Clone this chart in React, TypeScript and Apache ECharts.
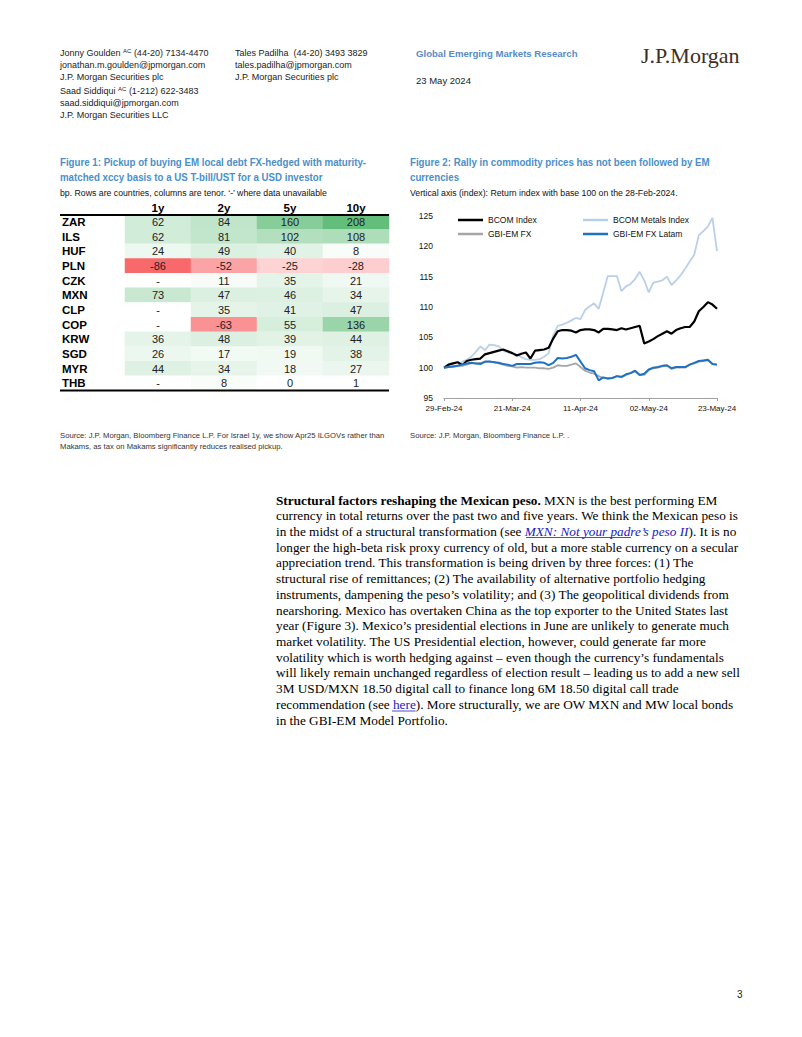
import React, { useEffect, useRef } from 'react';
import * as echarts from 'echarts';

const SANS = '"Liberation Sans", Arial, sans-serif';
const SERIF = '"Liberation Serif", "Times New Roman", serif';

// ---------- Figure 1 data ----------
const currencies = ['ZAR', 'ILS', 'HUF', 'PLN', 'CZK', 'MXN', 'CLP', 'COP', 'KRW', 'SGD', 'MYR', 'THB'];
const tenors = ['1y', '2y', '5y', '10y'];
const pickup1y: (number | null)[] = [62, 62, 24, -86, null, 73, null, null, 36, 26, 44, null];
const pickup2y: (number | null)[] = [84, 81, 49, -52, 11, 47, 35, -63, 48, 17, 34, 8];
const pickup5y: (number | null)[] = [160, 102, 40, -25, 35, 46, 41, 55, 39, 19, 18, 0];
const pickup10y: (number | null)[] = [208, 108, 8, -28, 21, 34, 47, 136, 44, 38, 27, 1];

// ---------- Figure 2 data ----------
const dates = [
  '29-Feb-24', '01-Mar-24', '04-Mar-24', '05-Mar-24', '06-Mar-24', '07-Mar-24', '08-Mar-24',
  '11-Mar-24', '12-Mar-24', '13-Mar-24', '14-Mar-24', '15-Mar-24',
  '18-Mar-24', '19-Mar-24', '20-Mar-24', '21-Mar-24', '22-Mar-24',
  '25-Mar-24', '26-Mar-24', '27-Mar-24', '28-Mar-24', '29-Mar-24',
  '01-Apr-24', '02-Apr-24', '03-Apr-24', '04-Apr-24', '05-Apr-24',
  '08-Apr-24', '09-Apr-24', '10-Apr-24', '11-Apr-24', '12-Apr-24',
  '15-Apr-24', '16-Apr-24', '17-Apr-24', '18-Apr-24', '19-Apr-24',
  '22-Apr-24', '23-Apr-24', '24-Apr-24', '25-Apr-24', '26-Apr-24',
  '29-Apr-24', '30-Apr-24', '01-May-24', '02-May-24', '03-May-24',
  '06-May-24', '07-May-24', '08-May-24', '09-May-24', '10-May-24',
  '13-May-24', '14-May-24', '15-May-24', '16-May-24', '17-May-24',
  '20-May-24', '21-May-24', '22-May-24', '23-May-24',
];
const bcomIndex = [
  100.0, 100.5, 100.7, 100.9, 100.4, 101.1, 101.3, 101.4, 101.5, 102.2,
  102.4, 102.6, 102.8, 103.0, 102.7, 102.4, 102.0, 102.3, 102.5, 101.5,
  102.8, 102.9, 103.0, 103.3, 104.8, 106.0, 106.2, 106.2, 106.1, 105.8,
  106.2, 106.3, 106.3, 106.2, 105.8, 106.4, 106.4, 106.3, 106.2, 106.5,
  106.3, 106.5, 106.7, 106.9, 104.0, 104.3, 104.7, 105.2, 105.6, 106.0,
  105.6, 106.2, 106.5, 106.7, 106.7, 107.6, 109.3, 110.0, 110.8, 110.4, 109.7,
];
const bcomMetals = [
  100.0, 100.2, 100.1, 100.3, 101.0, 101.3, 101.8, 102.6, 103.5, 102.9,
  103.8, 103.7, 103.5, 102.8, 102.5, 102.4, 102.2, 101.7, 101.4, 101.3,
  101.3, 101.4, 101.8, 102.4, 105.3, 106.9, 107.1, 107.4, 107.8, 108.2,
  108.0, 109.5, 110.1, 110.6, 109.7, 112.4, 115.1, 115.1, 115.1, 112.6,
  113.4, 113.8, 114.6, 115.8, 114.4, 112.4, 114.0, 114.2, 114.4, 115.0,
  113.6, 114.4, 115.2, 116.3, 117.5, 118.6, 121.8, 122.5, 123.3, 124.7, 119.2,
];
const gbiEmFx = [
  100.0, 100.1, 100.2, 100.3, 100.3, 100.5, 100.7, 100.7, 100.8, 100.9,
  101.0, 100.9, 100.7, 100.5, 100.3, 100.2, 100.0, 100.1, 100.0, 100.0,
  100.0, 99.9, 99.9, 99.8, 100.0, 100.4, 100.3, 100.3, 100.5, 100.7,
  100.1, 99.5, 99.2, 99.0, 98.6, 98.3, 98.2, 98.3, 98.6, 98.4,
  98.8, 99.1, 99.4, 98.8, 98.8, 99.6, 99.9, 100.0, 100.2, 100.3,
  99.8, 100.0, 100.0, 100.0, 100.5, 100.7, 101.0, 101.1, 101.2, 100.6, 100.5,
];
const gbiEmFxLatam = [
  100.0, 100.1, 100.2, 100.3, 100.5, 100.7, 100.8, 100.7, 100.6, 101.0,
  101.0, 100.9, 100.8, 100.6, 100.5, 100.3, 100.6, 100.6, 100.6, 100.6,
  100.8, 100.9, 100.8, 100.4, 100.8, 101.6, 101.5, 101.6, 101.8, 102.1,
  101.0, 99.9, 99.6, 99.4, 97.9, 98.4, 98.2, 98.3, 98.6, 98.5,
  98.9, 99.1, 99.5, 98.8, 99.0, 99.7, 100.0, 100.1, 100.3, 100.4,
  99.9, 100.1, 100.1, 100.1, 100.5, 100.8, 101.1, 101.2, 101.3, 100.6, 100.5,
];
const yTicks = { min: 95, max: 125, interval: 5 };

// ---------- Page text ----------
const paragraphLines = [
  '{b|Structural factors reshaping the Mexican peso.} MXN is the best performing EM',
  'currency in total returns over the past two and five years. We think the Mexican peso is',
  'in the midst of a structural transformation (see {l|MXN: Not your padre\u2019s peso II}). It is no',
  'longer the high-beta risk proxy currency of old, but a more stable currency on a secular',
  'appreciation trend. This transformation is being driven by three forces: (1) The',
  'structural rise of remittances; (2) The availability of alternative portfolio hedging',
  'instruments, dampening the peso\u2019s volatility; and (3) The geopolitical dividends from',
  'nearshoring. Mexico has overtaken China as the top exporter to the United States last',
  'year (Figure 3). Mexico\u2019s presidential elections in June are unlikely to generate much',
  'market volatility. The US Presidential election, however, could generate far more',
  'volatility which is worth hedging against \u2013 even though the currency\u2019s fundamentals',
  'will likely remain unchanged regardless of election result \u2013 leading us to add a new sell',
  '3M USD/MXN 18.50 digital call to finance long 6M 18.50 digital call trade',
  'recommendation (see {h|here}). More structurally, we are OW MXN and MW local bonds',
  'in the GBI-EM Model Portfolio.',
];

export default function App() {
  const ref = useRef<HTMLDivElement>(null);

  useEffect(() => {
    if (!ref.current) return;
    const chart = echarts.init(ref.current, null, { renderer: 'svg', width: 802, height: 1037 });

    const cols = [pickup1y, pickup2y, pickup5y, pickup10y];
    const all = cols.flat().filter((v) => v !== null) as number[];
    const maxV = Math.max(...all);
    const minV = Math.min(...all);
    // colour position: -1 (min, red) .. 0 (white) .. 1 (max, green)
    const colorPos = (v: number | null) => (v === null ? 0 : v >= 0 ? v / maxV : -v / minV);
    const heatData: any[] = [];
    cols.forEach((col, c) => {
      col.forEach((v, r) => {
        heatData.push({ value: [c, r, v === null ? 0 : v, colorPos(v)], raw: v });
      });
    });

    const txt = (x: number, y: number, text: string, style: any = {}, scaleX = 1) => ({
      type: 'text',
      x,
      y,
      scaleX,
      silent: true,
      style: {
        text,
        fontFamily: SANS,
        fontSize: 9,
        fill: '#222',
        verticalAlign: 'middle',
        ...style,
      },
    });

    const sup = { sup: { fontSize: 6, verticalAlign: 'top', padding: [0, 0, 4, 0], fontFamily: SANS, fill: '#222' } };
    const titleStyle = { fontSize: 11.5, fontWeight: 'bold', fill: '#4a8fcb' };
    const subStyle = { fontSize: 9.5, fill: '#111' };
    const srcStyle = { fontSize: 7.7, fill: '#333' };

    const graphics: any[] = [
      txt(60, 53, 'Jonny Goulden {sup|AC} (44-20) 7134-4470', { rich: sup }),
      txt(60, 65, 'jonathan.m.goulden@jpmorgan.com'),
      txt(60, 77, 'J.P. Morgan Securities plc'),
      txt(60, 91, 'Saad Siddiqui {sup|AC} (1-212) 622-3483', { rich: sup }),
      txt(60, 103, 'saad.siddiqui@jpmorgan.com'),
      txt(60, 115, 'J.P. Morgan Securities LLC'),
      txt(235, 53, 'Tales Padilha  (44-20) 3493 3829'),
      txt(235, 65, 'tales.padilha@jpmorgan.com'),
      txt(235, 77, 'J.P. Morgan Securities plc'),
      txt(416, 53, 'Global Emerging Markets Research', { fontSize: 9.6, fontWeight: 'bold', fill: '#5b8bc6' }),
      txt(416, 80, '23 May 2024', { fontSize: 9.5 }),
      txt(641, 55, 'J.P.Morgan', { fontFamily: SERIF, fontSize: 22, fill: '#3d2e25' }),

      txt(60, 162, 'Figure 1: Pickup of buying EM local debt FX-hedged with maturity-', titleStyle, 0.845),
      txt(60, 177, 'matched xccy basis to a US T-bill/UST for a USD investor', titleStyle, 0.845),
      txt(60, 193, 'bp. Rows are countries, columns are tenor. \u2018-\u2019 where data unavailable', subStyle, 0.92),
      txt(410, 162, 'Figure 2: Rally in commodity prices has not been followed by EM', titleStyle, 0.845),
      txt(410, 177, 'currencies', titleStyle, 0.845),
      txt(410, 193, 'Vertical axis (index): Return index with base 100 on the 28-Feb-2024.', subStyle, 0.92),

      txt(60, 435, 'Source: J.P. Morgan, Bloomberg Finance L.P. For Israel 1y, we show Apr25 ILGOVs rather than', srcStyle),
      txt(60, 446, 'Makams, as tax on Makams significantly reduces realised pickup.', srcStyle),
      txt(410, 435, 'Source: J.P. Morgan, Bloomberg Finance L.P. .', srcStyle),

      { type: 'line', silent: true, z: 10, shape: { x1: 60, y1: 215, x2: 389, y2: 215 }, style: { stroke: '#000', lineWidth: 2 } },
      { type: 'line', silent: true, z: 10, shape: { x1: 60, y1: 390.5, x2: 389, y2: 390.5 }, style: { stroke: '#000', lineWidth: 2 } },

      // link underlines
      { type: 'line', silent: true, shape: { x1: 526, y1: 537.5, x2: 631, y2: 537.5 }, style: { stroke: '#2020c0', lineWidth: 0.8 } },
      { type: 'line', silent: true, shape: { x1: 392, y1: 711, x2: 415.5, y2: 711 }, style: { stroke: '#2020c0', lineWidth: 0.8 } },

      txt(737, 994, '3', { fontSize: 10 }),
    ];

    paragraphLines.forEach((line, k) => {
      graphics.push(
        txt(276, 500 + 15.72 * k, line, {
          fontFamily: SERIF,
          fontSize: 13.25,
          fill: '#000',
          rich: {
            b: { fontFamily: SERIF, fontSize: 13.25, fontWeight: 'bold', fill: '#000' },
            l: { fontFamily: SERIF, fontSize: 13.25, fontStyle: 'italic', fill: '#2020c0' },
            h: { fontFamily: SERIF, fontSize: 13.25, fill: '#2020c0' },
          },
        })
      );
    });

    const lineSeries = (name: string, data: number[], color: string, width: number, z: number) => ({
      type: 'line',
      name,
      data,
      xAxisIndex: 1,
      yAxisIndex: 1,
      symbol: 'none',
      z,
      lineStyle: { color, width },
      itemStyle: { color },
    });

    const legendText = { fontFamily: SANS, fontSize: 8.5, color: '#111', lineHeight: 12 };

    chart.setOption({
      animation: false,
      backgroundColor: '#ffffff',
      grid: [
        { left: 125, top: 214.5, width: 264, height: 176, containLabel: false },
        { left: 444, top: 216, width: 273, height: 182, containLabel: false },
      ],
      visualMap: {
        show: false,
        type: 'continuous',
        seriesIndex: 0,
        dimension: 3,
        min: -1,
        max: 1,
        inRange: { color: ['#F8696B', '#FFFFFF', '#63BE7B'] },
      },
      xAxis: [
        {
          gridIndex: 0,
          type: 'category',
          data: tenors,
          position: 'top',
          axisLine: { show: false },
          axisTick: { show: false },
          axisLabel: { interval: 0, fontFamily: SANS, fontSize: 11.5, fontWeight: 'bold', color: '#000', margin: 0.5 },
        },
        {
          gridIndex: 1,
          type: 'category',
          data: dates,
          boundaryGap: false,
          axisLine: { lineStyle: { color: '#a0a0a0', width: 1 } },
          axisTick: { interval: 14, length: 3, lineStyle: { color: '#a0a0a0' } },
          axisLabel: { interval: 14, fontFamily: SANS, fontSize: 8, color: '#111', margin: 6 },
          splitLine: { show: false },
        },
      ],
      yAxis: [
        {
          gridIndex: 0,
          type: 'category',
          data: currencies,
          inverse: true,
          axisLine: { show: false },
          axisTick: { show: false },
          axisLabel: { interval: 0, fontFamily: SANS, fontSize: 11.5, fontWeight: 'bold', color: '#000', align: 'left', margin: 63 },
        },
        {
          gridIndex: 1,
          type: 'value',
          min: yTicks.min,
          max: yTicks.max,
          interval: yTicks.interval,
          axisLine: { show: false },
          axisTick: { show: false },
          splitLine: { show: false },
          axisLabel: { fontFamily: SANS, fontSize: 8.5, color: '#111', margin: 11 },
        },
      ],
      legend: [
        {
          data: ['BCOM Index', 'GBI-EM FX'],
          orient: 'vertical',
          left: 458,
          top: 214,
          padding: 0,
          itemGap: 2,
          itemWidth: 25,
          itemHeight: 2.5,
          icon: 'rect',
          textStyle: legendText,
        },
        {
          data: ['BCOM Metals Index', 'GBI-EM FX Latam'],
          orient: 'vertical',
          left: 583,
          top: 214,
          padding: 0,
          itemGap: 2,
          itemWidth: 25,
          itemHeight: 2.5,
          icon: 'rect',
          textStyle: legendText,
        },
      ],
      series: [
        {
          type: 'heatmap',
          xAxisIndex: 0,
          yAxisIndex: 0,
          data: heatData,
          label: {
            show: true,
            fontFamily: SANS,
            fontSize: 11,
            color: '#222',
            formatter: (p: any) => (p.data.raw === null ? '-' : String(p.data.raw)),
          },
          emphasis: { disabled: true },
        },
        lineSeries('BCOM Metals Index', bcomMetals, '#b9d0e8', 1.8, 2),
        lineSeries('BCOM Index', bcomIndex, '#000000', 2.2, 3),
        lineSeries('GBI-EM FX', gbiEmFx, '#a6a6a6', 1.8, 4),
        lineSeries('GBI-EM FX Latam', gbiEmFxLatam, '#1f72c2', 2, 5),
      ],
      graphic: graphics,
    });

    return () => chart.dispose();
  }, []);

  return (
    <div
      ref={ref}
      style={{ position: 'absolute', left: 0, top: 0, width: 802, height: 1037, background: '#fff' }}
    />
  );
}
